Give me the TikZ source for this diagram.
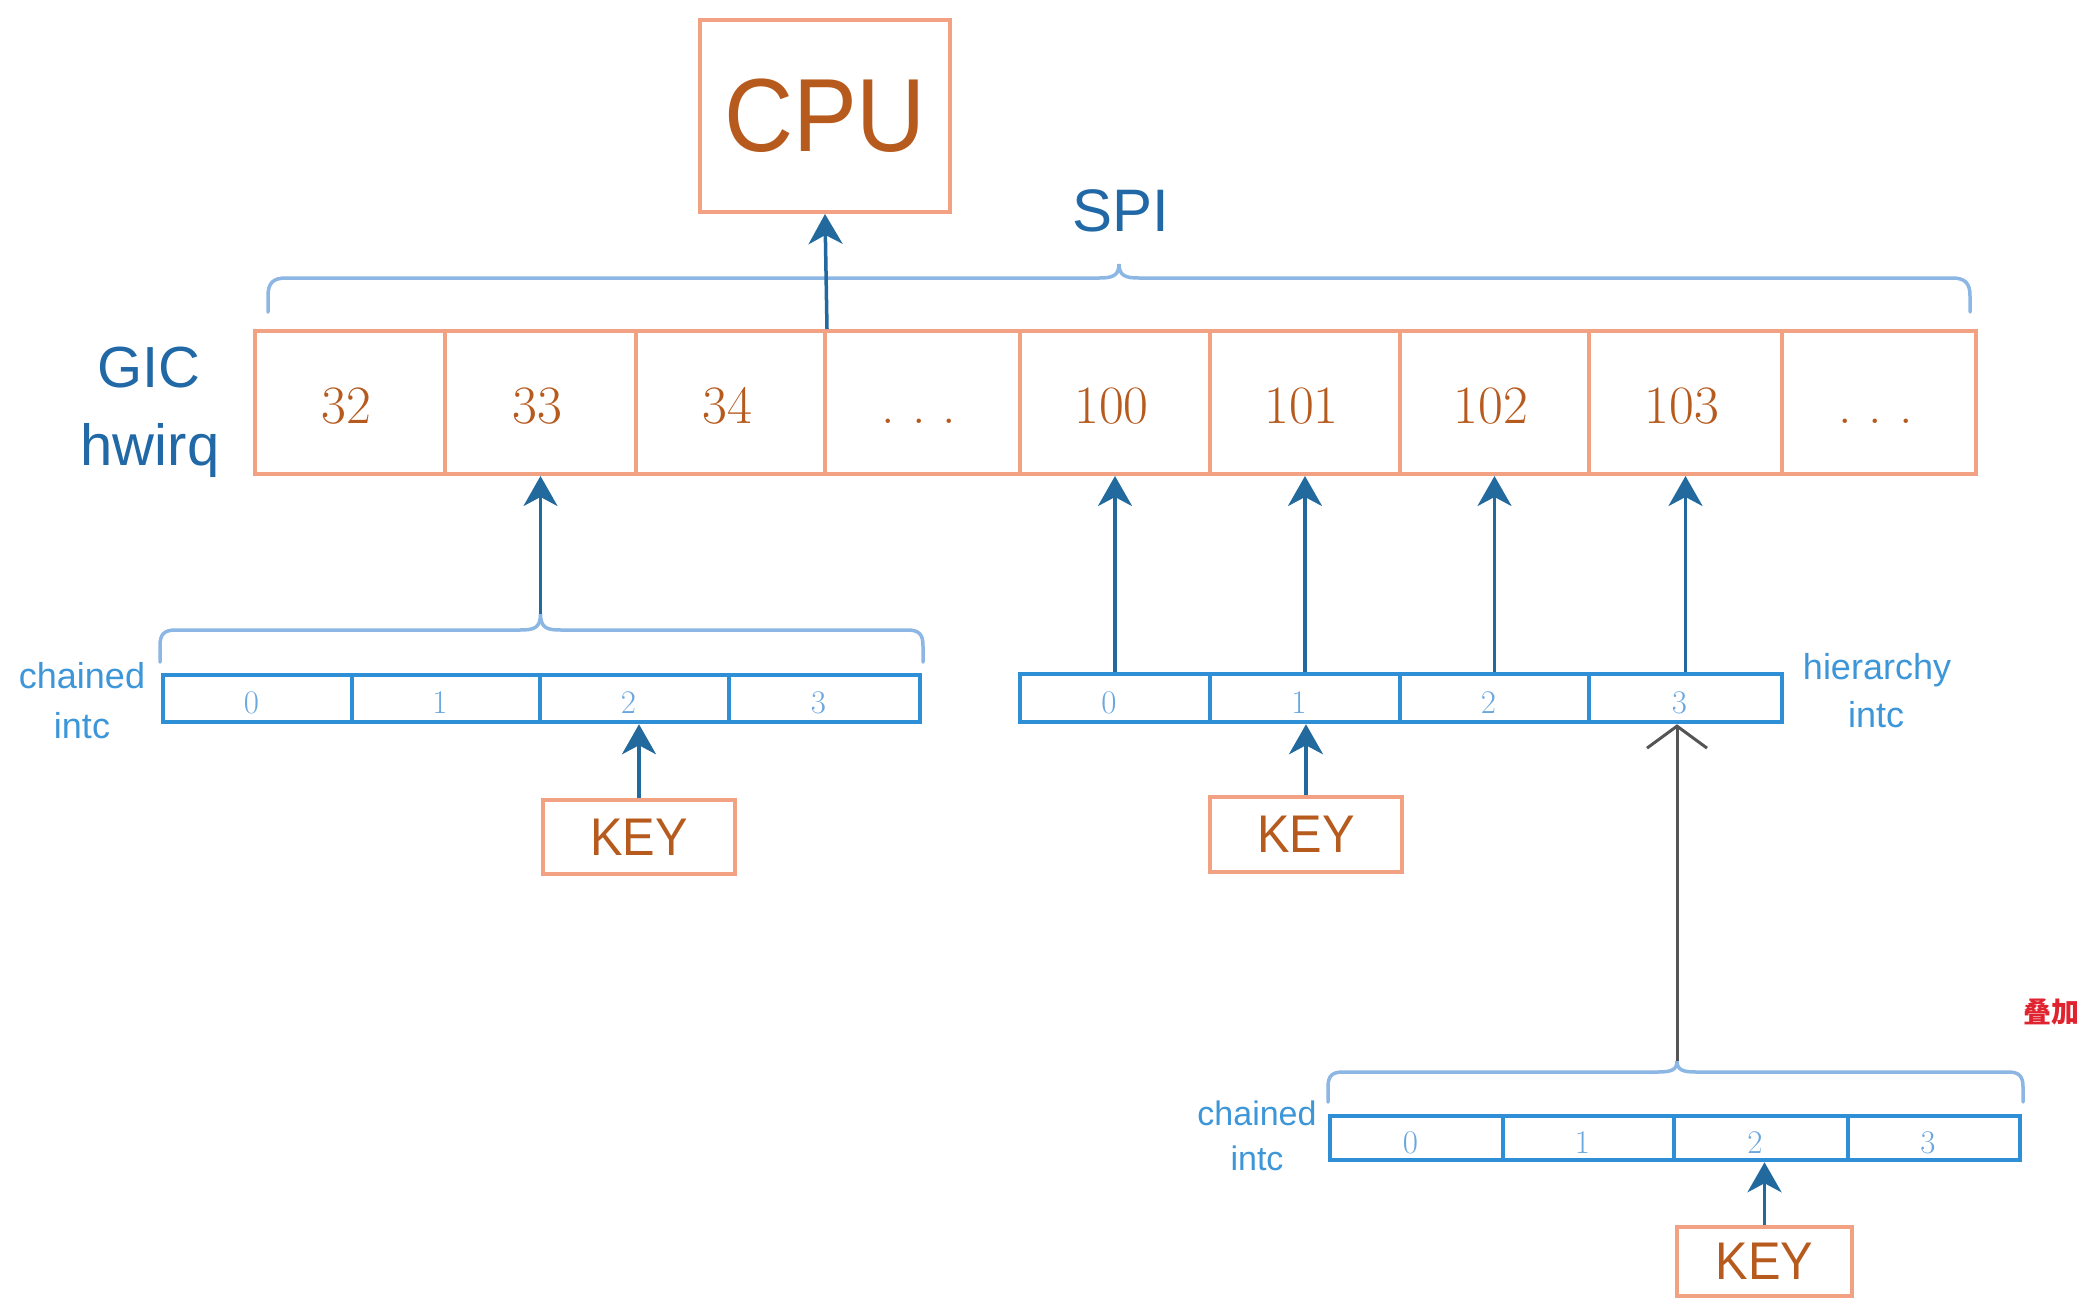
\documentclass[tikz,border=0pt]{standalone}
\usepackage{fontspec}
\newfontfamily\lab{Liberation Sans}
\newfontfamily\labn{Liberation Sans}[FakeStretch=0.92]
\newfontfamily\cjk{Noto Sans CJK SC}
\usetikzlibrary{arrows.meta}
\definecolor{salmon}{HTML}{F2A283}
\definecolor{brownt}{HTML}{B65A1E}
\definecolor{arrowblue}{HTML}{22699E}
\definecolor{darklabel}{HTML}{2168A6}
\definecolor{rowblue}{HTML}{2E8FD6}
\definecolor{numblue}{HTML}{6BA7DE}
\definecolor{bracecol}{HTML}{8CB6E3}
\definecolor{lightlabel}{HTML}{3D96D8}
\definecolor{grayarr}{HTML}{555555}
\definecolor{redt}{HTML}{E0242F}
\newcommand\gdots{.\hspace{17pt}.\hspace{17pt}.\hspace{14pt}}
\begin{document}
\begin{tikzpicture}[x=1pt,y=-1pt,
  gcell/.style={draw=salmon, line width=4pt, inner sep=0pt, minimum height=143pt,
    text=brownt, font=\fontsize{54}{54}\selectfont, text height=41pt, text depth=0pt,
    execute at end node={\hspace{7pt}}},
  scell/.style={draw=rowblue, line width=4.5pt, inner sep=0pt,
    text=numblue, font=\fontsize{33}{33}\selectfont, text height=30pt, text depth=0pt,
    execute at end node={\hspace{12pt}}},
  keybox/.style={draw=salmon, line width=4pt, inner sep=0pt, text=brownt,
    font=\labn\fontsize{53}{53}\selectfont},
  biglabel/.style={text=darklabel, inner sep=0pt, anchor=base},
  smalllabel/.style={text=lightlabel, inner sep=0pt, anchor=base, font=\lab\fontsize{36}{36}\selectfont},
  arr/.style={draw=arrowblue, line width=3.5pt, -{Stealth[length=30pt,width=34pt,inset=9pt]}},
  graya/.style={draw=grayarr, line width=3pt, -{Straight Barb[length=22pt,width=60pt]}},
  bracel/.style={draw=bracecol, line width=3.5pt, line cap=round}
]
\useasboundingbox (0,0) rectangle (2097,1302);

% CPU
\node[draw=salmon, line width=4pt, minimum width=250pt, minimum height=192pt, inner sep=0pt,
  text=brownt, font=\labn\fontsize{104}{104}\selectfont] (cpu) at (825,116) {CPU};

% SPI label and top brace
\node[biglabel, font=\lab\fontsize{60}{60}\selectfont] (spi) at (1121,231) {SPI};
\coordinate (spitip) at (1119,264);
\draw[bracel] (268,312) -- (268,296) .. controls (268,283) and (273,278) .. (286,278)
  -- (1099,278) .. controls (1112,278) and (1119,276) .. (spitip)
  .. controls (1119,276) and (1126,278) .. (1139,278)
  -- (1952,278) .. controls (1965,278) and (1970,283) .. (1970,296) -- (1970,312);

% GIC labels
\node[biglabel, font=\lab\fontsize{58}{58}\selectfont] (gic) at (149,387) {GIC};
\node[biglabel, font=\lab\fontsize{58}{58}\selectfont] (hwirq) at (150,465) {hwirq};

% GIC row
\node[gcell, minimum width=190pt] (g32) at (350,402.5) {32};
\node[gcell, minimum width=191pt] (g33) at (540.5,402.5) {33};
\node[gcell, minimum width=189pt] (g34) at (730.5,402.5) {34};
\node[gcell, minimum width=195pt] (gd1) at (922.5,402.5) {\gdots};
\node[gcell, minimum width=190pt] (g100) at (1115,402.5) {100};
\node[gcell, minimum width=190pt] (g101) at (1305,402.5) {101};
\node[gcell, minimum width=189pt] (g102) at (1494.5,402.5) {102};
\node[gcell, minimum width=193pt] (g103) at (1685.5,402.5) {103};
\node[gcell, minimum width=194pt] (gd2) at (1879,402.5) {\gdots};

\draw[arr] (g34.north east) -- (cpu.south);

% left chained intc
\node[smalllabel] (lch) at (82,688) {chained};
\node[smalllabel] (lin) at (82,738) {intc};
\node[scell, minimum width=189pt, minimum height=47pt] (l0) at (257.5,698.5) {0};
\node[scell, minimum width=188pt, minimum height=47pt] (l1) at (446,698.5) {1};
\node[scell, minimum width=189pt, minimum height=47pt] (l2) at (634.5,698.5) {2};
\node[scell, minimum width=191pt, minimum height=47pt] (l3) at (824.5,698.5) {3};
\coordinate (ltip) at (540.5,614);
\draw[bracel] (160,662) -- (160,646) .. controls (160,634) and (164,630) .. (176,630)
  -- (520,630) .. controls (534,630) and (540.5,628) .. (ltip)
  .. controls (540.5,628) and (547,630) .. (561,630)
  -- (907,630) .. controls (919,630) and (923,634) .. (923,646) -- (923,662);
\draw[arr] (ltip) -- (ltip |- g33.south);
\node[keybox, minimum width=192pt, minimum height=74pt] (keyl) at (639,837) {KEY};
\draw[arr] (keyl.north) -- (keyl.north |- l2.south);

% hierarchy intc
\node[smalllabel] (hch) at (1877,679) {hierarchy};
\node[smalllabel] (hin) at (1876,727) {intc};
\node[scell, minimum width=190pt, minimum height=48pt] (h0) at (1115,698) {0};
\node[scell, minimum width=190pt, minimum height=48pt] (h1) at (1305,698) {1};
\node[scell, minimum width=189pt, minimum height=48pt] (h2) at (1494.5,698) {2};
\node[scell, minimum width=193pt, minimum height=48pt] (h3) at (1685.5,698) {3};
\draw[arr] (h0.north) -- (h0.north |- g100.south);
\draw[arr] (h1.north) -- (h1.north |- g101.south);
\draw[arr] (h2.north) -- (h2.north |- g102.south);
\draw[arr] (h3.north) -- (h3.north |- g103.south);
\node[keybox, minimum width=192pt, minimum height=75pt] (keym) at (1306,834.5) {KEY};
\draw[arr] (keym.north) -- (keym.north |- h1.south);

% bottom chained intc
\node[smalllabel, font=\lab\fontsize{34}{34}\selectfont] (bch) at (1257,1125) {chained};
\node[smalllabel, font=\lab\fontsize{34}{34}\selectfont] (bin) at (1257,1170) {intc};
\node[scell, minimum width=173pt, minimum height=44pt] (b0) at (1416.5,1138) {0};
\node[scell, minimum width=171pt, minimum height=44pt] (b1) at (1588.5,1138) {1};
\node[scell, minimum width=174pt, minimum height=44pt] (b2) at (1761,1138) {2};
\node[scell, minimum width=172pt, minimum height=44pt] (b3) at (1934,1138) {3};
\coordinate (btip) at (1677,1061);
\draw[bracel] (1328,1102) -- (1328,1087) .. controls (1328,1076) and (1332,1072) .. (1343,1072)
  -- (1658,1072) .. controls (1671,1072) and (1677,1070) .. (btip)
  .. controls (1677,1070) and (1683,1072) .. (1696,1072)
  -- (2008,1072) .. controls (2019,1072) and (2023,1076) .. (2023,1087) -- (2023,1102);
\draw[graya] (btip) -- (btip |- h3.south);
\node[keybox, minimum width=175pt, minimum height=69pt] (keyb) at (1764.5,1261.5) {KEY};
\draw[arr] (keyb.north) -- (keyb.north |- b2.south);

% note
\node[text=redt, inner sep=0pt, font=\cjk\bfseries\fontsize{28}{28}\selectfont] (note) at (2051,1012) {叠加};
\end{tikzpicture}
\end{document}
